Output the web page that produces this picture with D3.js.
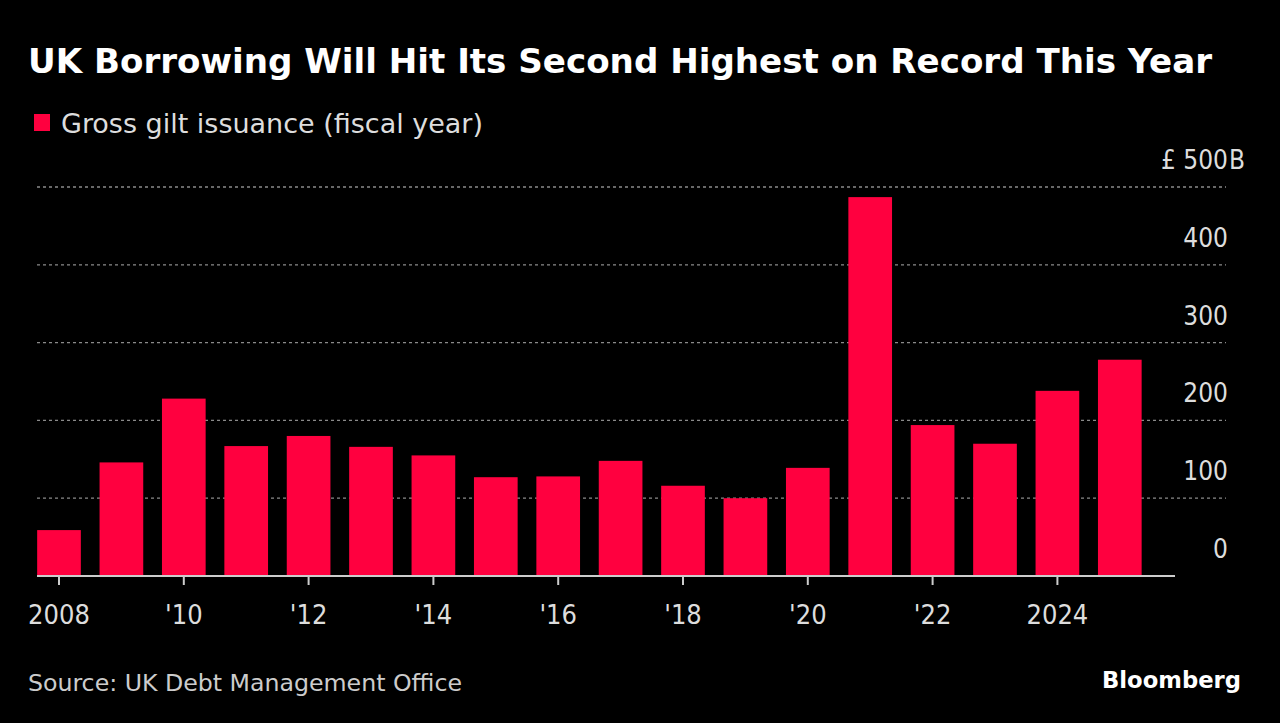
<!DOCTYPE html>
<html><head><meta charset="utf-8">
<script src="https://cdn.jsdelivr.net/npm/d3@7"></script>
<style>
html,body{margin:0;padding:0;background:#000;}
svg{display:block;}
</style></head>
<body>
<script>
const years = [2008,2009,2010,2011,2012,2013,2014,2015,2016,2017,2018,2019,2020,2021,2022,2023,2024,2025];
const issuance = [59,146,228,167,180,166,155,127,128,148,116,100,139,487,194,170,238,278];
const yTicks = [0,100,200,300,400,500];
const xTickYears = [2008,2010,2012,2014,2016,2018,2020,2022,2024];
const xTickLabels = ["2008","'10","'12","'14","'16","'18","'20","'22","2024"];

const W=1280,H=723;
const font = "'DejaVu Sans Condensed','DejaVu Sans',sans-serif";
const svg = d3.select("body").append("svg").attr("width",W).attr("height",H).style("background","#000");

const x = d3.scaleBand().domain(years).range([27.8, 27.8+62.4*18]).paddingInner(0.3).paddingOuter(0.15);
const y = d3.scaleLinear().domain([0,500]).range([576,187]);

// title
svg.append("text").attr("x",28).attr("y",73).attr("fill","#fff")
  .attr("font-family",font).attr("font-weight","bold").attr("font-size",33)
  .attr("textLength",1184).attr("lengthAdjust","spacingAndGlyphs")
  .text("UK Borrowing Will Hit Its Second Highest on Record This Year");

// legend
svg.append("rect").attr("x",34).attr("y",114).attr("width",16).attr("height",17).attr("fill","#ff003f");
svg.append("text").attr("x",61).attr("y",133).attr("fill","#ddd")
  .attr("font-family",font).attr("font-size",27)
  .attr("textLength",422).attr("lengthAdjust","spacingAndGlyphs")
  .text("Gross gilt issuance (fiscal year)");

// gridlines
svg.append("g").selectAll("line").data(yTicks.filter(d=>d>0)).join("line")
  .attr("x1",37).attr("x2",1226).attr("y1",d=>y(d)).attr("y2",d=>y(d))
  .attr("stroke","#8a8a8a").attr("stroke-width",1.3).attr("stroke-dasharray","3,3");

// y labels
const yl = svg.append("g").selectAll("text").data(yTicks).join("text")
  .attr("x",1228).attr("y",d=>y(d)-18).attr("text-anchor","end")
  .attr("fill","#ddd").attr("font-family",font).attr("font-size",26)
  .text(d=>d===500?"£ 500":d);
svg.append("text").attr("x",1229).attr("y",y(500)-18).attr("fill","#ddd")
  .attr("font-family",font).attr("font-size",26).text("B");

// bars
svg.append("g").selectAll("rect").data(years).join("rect")
  .attr("x",d=>x(d)).attr("width",x.bandwidth())
  .attr("y",(d,i)=>y(issuance[i])).attr("height",(d,i)=>y(0)-y(issuance[i]))
  .attr("fill","#ff003f");

// x axis
const xAxis = d3.axisBottom(x).tickValues(xTickYears)
  .tickFormat(d=>xTickLabels[xTickYears.indexOf(d)]).tickSize(9).tickPadding(20);
const gx = svg.append("g").attr("transform","translate(0,576)").call(xAxis);
gx.select(".domain").remove();
gx.insert("line",":first-child").attr("x1",37).attr("x2",1175).attr("y1",0).attr("y2",0)
  .attr("stroke","#ccc").attr("stroke-width",2);
gx.selectAll(".tick line").attr("stroke","#ccc").attr("stroke-width",2);
gx.selectAll(".tick text").attr("fill","#ddd").attr("font-family",font).attr("font-size",27);

// source
svg.append("text").attr("x",28).attr("y",691).attr("fill","#ccc")
  .attr("font-family",font).attr("font-size",23)
  .attr("textLength",434).attr("lengthAdjust","spacingAndGlyphs")
  .text("Source: UK Debt Management Office");
svg.append("text").attr("x",1241).attr("y",688).attr("text-anchor","end").attr("fill","#fff")
  .attr("font-family","'DejaVu Sans',sans-serif").attr("font-weight","bold").attr("font-size",23)
  .attr("textLength",139).attr("lengthAdjust","spacingAndGlyphs")
  .text("Bloomberg");
</script>
</body></html>
